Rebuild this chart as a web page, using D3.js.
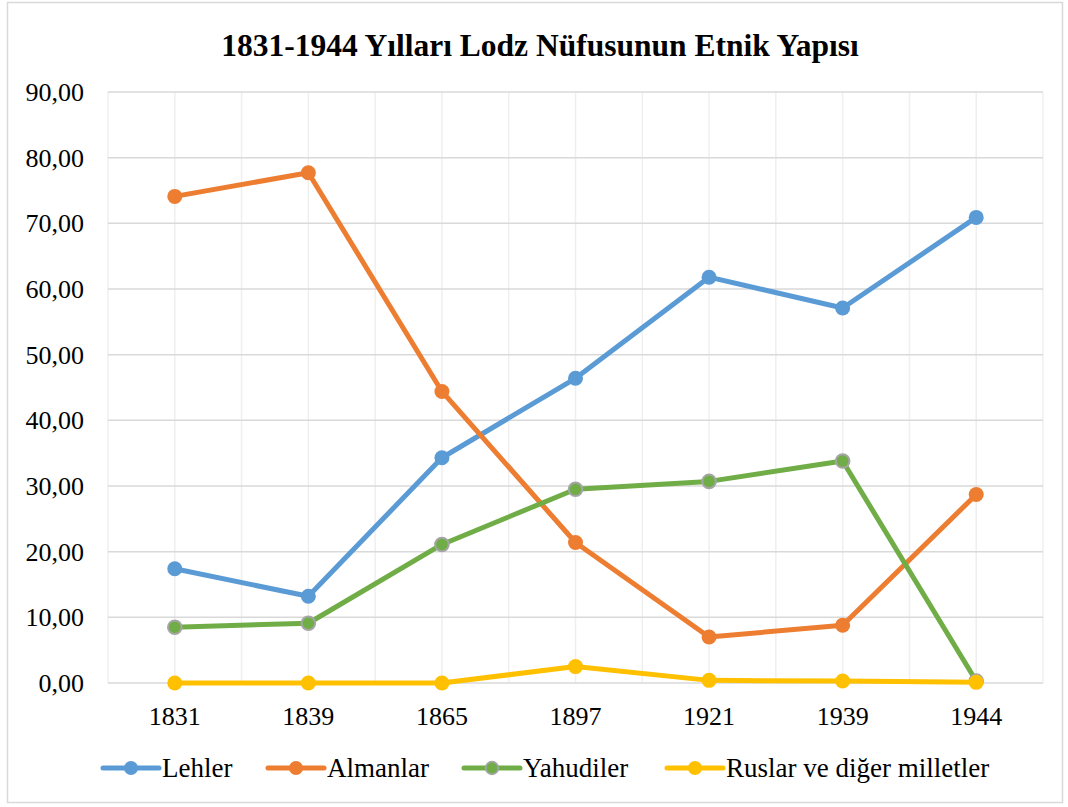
<!DOCTYPE html>
<html>
<head>
<meta charset="utf-8">
<script src="https://d3js.org/d3.v7.min.js"></script>
<style>
  body { margin: 0; background: #fff; }
  text { font-family: "Liberation Serif", "Times New Roman", serif; fill: #000; }
</style>
</head>
<body>
<script>
// data
var years = ["1831", "1839", "1865", "1897", "1921", "1939", "1944"];
var lehler    = [17.4, 13.2, 34.3, 46.4, 61.8, 57.1, 70.9];
var almanlar  = [74.1, 77.7, 44.4, 21.4, 7.0, 8.8, 28.7];
var yahudiler = [8.5, 9.1, 21.1, 29.5, 30.7, 33.8, 0.3];
var ruslar    = [0.0, 0.0, 0.0, 2.5, 0.4, 0.3, 0.1];
var seriesNames = ["Lehler", "Almanlar", "Yahudiler", "Ruslar ve diğer milletler"];
var yTicks = [0, 10, 20, 30, 40, 50, 60, 70, 80, 90];

var series = [
  {name: seriesNames[0], values: lehler,    color: "#5B9BD5", stroke: null},
  {name: seriesNames[1], values: almanlar,  color: "#ED7D31", stroke: null},
  {name: seriesNames[2], values: yahudiler, color: "#70AD47", stroke: "#A5A5A5"},
  {name: seriesNames[3], values: ruslar,    color: "#FFC000", stroke: null}
];

var W = 1068, H = 807;
var pLeft = 108, pRight = 1043, pTop = 92, pBottom = 683;

var svg = d3.select("body").append("svg")
  .attr("width", W).attr("height", H);

// outer frame
svg.append("rect")
  .attr("x", 7.5).attr("y", 2.5)
  .attr("width", 1055).attr("height", 800)
  .attr("fill", "#fff").attr("stroke", "#d9d9d9").attr("stroke-width", 1.5);

svg.append("text")
  .attr("x", 540).attr("y", 56)
  .attr("text-anchor", "middle")
  .style("font-size", "31.5px").style("font-weight", "bold")
  .text("1831-1944 Yılları Lodz Nüfusunun Etnik Yapısı");

var x = d3.scaleBand().domain(years).range([pLeft, pRight]).padding(0);
var y = d3.scaleLinear().domain([0, 90]).range([pBottom, pTop]);
var cx = d => x(d) + x.bandwidth() / 2;

// vertical grid (category centres and edges)
var vLines = [];
years.forEach(function(yr) { vLines.push(x(yr)); vLines.push(cx(yr)); });
vLines.push(pRight);
svg.append("g").selectAll("line").data(vLines).join("line")
  .attr("x1", d => d).attr("x2", d => d)
  .attr("y1", pTop).attr("y2", pBottom)
  .attr("stroke", "#efefef").attr("stroke-width", 1.5);

// horizontal grid
svg.append("g").selectAll("line").data(yTicks).join("line")
  .attr("x1", pLeft).attr("x2", pRight)
  .attr("y1", d => y(d)).attr("y2", d => y(d))
  .attr("stroke", "#d9d9d9").attr("stroke-width", 1.5);

// y axis labels
var fmt = d => d3.format(".2f")(d).replace(".", ",");
svg.append("g").selectAll("text").data(yTicks).join("text")
  .attr("x", 84).attr("y", d => y(d))
  .attr("dy", "0.35em")
  .attr("text-anchor", "end")
  .style("font-size", "26px")
  .text(fmt);

// x axis labels
svg.append("g").selectAll("text").data(years).join("text")
  .attr("x", d => cx(d)).attr("y", 725)
  .attr("text-anchor", "middle")
  .style("font-size", "26px")
  .text(d => d);

var line = d3.line()
  .x((d, i) => cx(years[i]))
  .y(d => y(d));

var g = svg.append("g").selectAll("g").data(series).join("g");
g.append("path")
  .attr("d", d => line(d.values))
  .attr("fill", "none")
  .attr("stroke", d => d.color)
  .attr("stroke-width", 5)
  .attr("stroke-linejoin", "round");
g.each(function(s) {
  d3.select(this).selectAll("circle").data(s.values).join("circle")
    .attr("cx", (d, i) => cx(years[i]))
    .attr("cy", d => y(d))
    .attr("r", s.stroke ? 6.8 : 7.5)
    .attr("fill", s.color)
    .attr("stroke", s.stroke || "none")
    .attr("stroke-width", s.stroke ? 2 : 0);
});

// legend
var legX = [103, 268, 464, 667];
var leg = svg.append("g").selectAll("g").data(series).join("g")
  .attr("transform", (d, i) => `translate(${legX[i]},768)`);
leg.append("line")
  .attr("x1", 0).attr("x2", 56)
  .attr("stroke", d => d.color).attr("stroke-width", 5)
  .attr("stroke-linecap", "round");
leg.append("circle")
  .attr("cx", 28).attr("r", d => d.stroke ? 6.3 : 7)
  .attr("fill", d => d.color)
  .attr("stroke", d => d.stroke || "none")
  .attr("stroke-width", d => d.stroke ? 1.8 : 0);
leg.append("text")
  .attr("x", 59).attr("dy", "0.35em")
  .style("font-size", "27px")
  .text(d => d.name);
</script>
</body>
</html>
